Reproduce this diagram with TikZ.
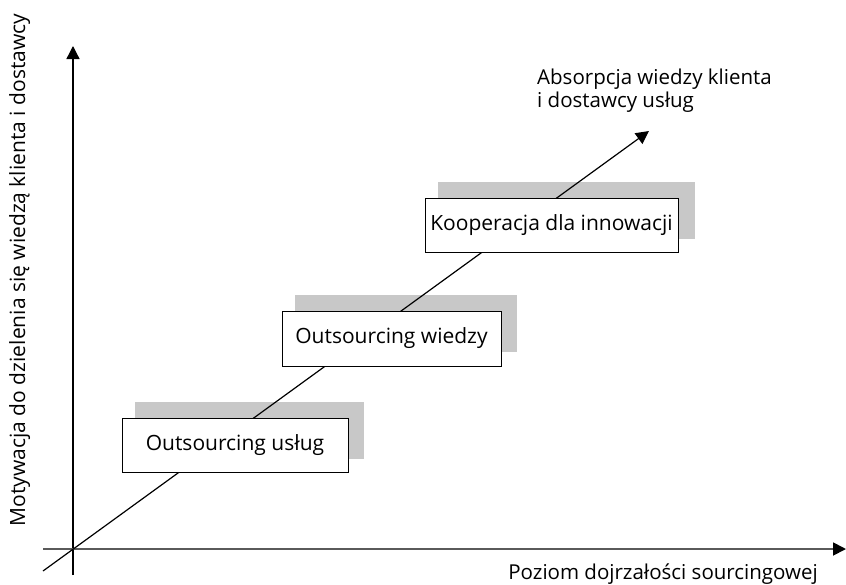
\documentclass[tikz,border=0pt]{standalone}
\usepackage{fontspec}
\setmainfont{Open Sans}
\usetikzlibrary{arrows.meta}
\definecolor{shade}{HTML}{C8C8C8}
\definecolor{axisgray}{HTML}{5A5A5A}
\tikzset{
  shadowbox/.style={fill=shade, draw=none},
  stagebox/.style={draw=black, line width=1pt, fill=white},
  stagetext/.style={font=\fontsize{21}{24}\selectfont, inner sep=0pt, anchor=center},
  bigtip/.style={-{Triangle[length=13pt,width=13pt]}},
}
\begin{document}
\begin{tikzpicture}[x=1pt,y=-1pt]
\useasboundingbox (0,0) rectangle (846,584);
% shadows
\fill[shadowbox] (135,402) rectangle (364,459);
\fill[shadowbox] (295,295) rectangle (517,352);
\fill[shadowbox] (438,182) rectangle (695,239);
% axes
\coordinate (ybot) at (73,575);
\coordinate (ytop) at (73,46);
\coordinate (xleft) at (43,549);
\coordinate (xright) at (846,549);
\coordinate (ds) at (43,571);
\coordinate (de) at (649,131);
\draw[line width=1.3pt, bigtip] (ybot) -- (ytop);
\draw[line width=1.8pt, axisgray, -{Triangle[length=13pt,width=13pt,color=black]}] (xleft) -- (xright);
\draw[line width=1.2pt, bigtip] (ds) -- (de);
% boxes
\draw[stagebox] (122,418) rectangle (348,472);
\node[stagetext] (b1) at (235,445) {Outsourcing usług};
\draw[stagebox] (282,311) rectangle (501,366);
\node[stagetext] (b2) at (391.5,338.5) {Outsourcing wiedzy};
\draw[stagebox] (425,198) rectangle (678,252);
\node[stagetext] (b3) at (551.5,225) {Kooperacja dla innowacji};
% labels
\node[font=\fontsize{20.5}{23}\selectfont, align=left, anchor=base west, inner sep=0pt] (abs) at (537,107) {Absorpcja wiedzy klienta\\i dostawcy usług};
\node[font=\fontsize{20.5}{24}\selectfont, anchor=base east, inner sep=0pt] (xl) at (818,579) {Poziom dojrzałości sourcingowej};
\node[font=\fontsize{21}{24}\selectfont, rotate=90, anchor=base, inner sep=0pt] (yl) at (25,270) {Motywacja do dzielenia się wiedzą klienta i dostawcy};
\end{tikzpicture}
\end{document}
